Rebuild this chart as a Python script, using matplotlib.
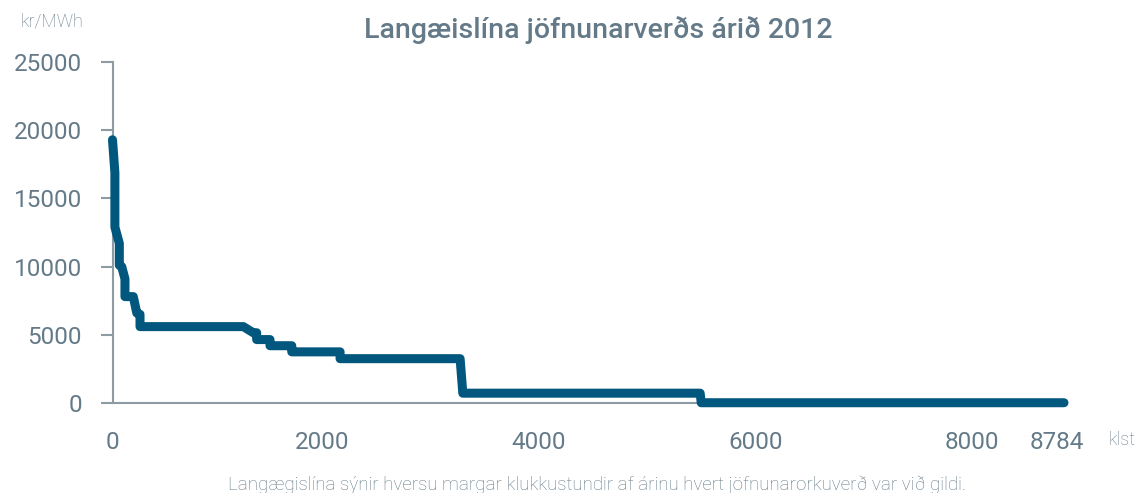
import matplotlib
matplotlib.use("Agg")
import matplotlib.pyplot as plt
import matplotlib.transforms as mtransforms

# duration curve (hours, kr/MWh)
hours = [0, 22, 22, 63, 63, 85, 115, 115, 192, 224, 254, 254,
         1208, 1300, 1331, 1331, 1454, 1454, 1655, 1655, 2101, 2101,
         3209, 3234, 5425, 5435, 8784]
price = [19300, 16900, 12900, 11700, 10100, 10000, 9100, 7800, 7800, 6600, 6500, 5600,
         5600, 5150, 5150, 4650, 4650, 4200, 4200, 3750, 3750, 3250,
         3250, 720, 720, 20, 20]

yticks = [0, 5000, 10000, 15000, 20000, 25000]
xticks = [0, 2000, 4000, 6000, 8000, 8784]

title = "Langæislína jöfnunarverðs árið 2012"
caption = "Langægislína sýnir hversu margar klukkustundir af árinu hvert jöfnunarorkuverð var við gildi."

txt = "#647a88"
axc = "#8d9ba4"
line_c = "#02577f"

plt.rcParams['font.family'] = ['Roboto', 'DejaVu Sans']

fig = plt.figure(figsize=(11.41, 4.93), dpi=100)
W, H = 1141, 493
ax = fig.add_axes([112.5 / W, 1 - 403 / H, (1064 - 112.5) / W, (403 - 62) / H])

ax.plot(hours, price, color=line_c, lw=6.5, solid_capstyle='round',
        solid_joinstyle='round', clip_on=False, zorder=3)

ax.set_xlim(0, 8784)
ax.set_ylim(0, 25000)

for s in ['top', 'right']:
    ax.spines[s].set_visible(False)
for s in ['left', 'bottom']:
    ax.spines[s].set_color(axc)
    ax.spines[s].set_linewidth(1.5)

ax.set_yticks(yticks)
ax.set_yticklabels([str(v) for v in yticks])
ax.tick_params(axis='y', length=9, width=1.5, color=axc, pad=13,
               labelsize=17.5, labelcolor=txt)
ax.set_xticks(xticks)
ax.set_xticklabels([str(v) for v in xticks])
ax.tick_params(axis='x', length=0, pad=20, labelsize=17.5, labelcolor=txt)
# labels in the original sit a little left of their positions
shift = mtransforms.ScaledTranslation(-7 / 100, 0, fig.dpi_scale_trans)
for lab in ax.get_xticklabels()[1:]:
    lab.set_transform(lab.get_transform() + shift)

fig.text(598 / W, 1 - 30 / H, title, ha='center', va='center', fontsize=20.5,
         color=txt, fontweight='medium')
fig.text(52 / W, 1 - 22 / H, "kr/MWh", ha='center', va='center', fontsize=13,
         color=txt, fontweight='light')
fig.text(1122 / W, 1 - 440 / H, "klst", ha='center', va='center', fontsize=13,
         color=txt, fontweight='light')
fig.text(597 / W, 1 - 490 / H, caption, ha='center', va='baseline', fontsize=13.5,
         color=txt, fontweight='light')

fig.savefig("out.png", dpi=100)
